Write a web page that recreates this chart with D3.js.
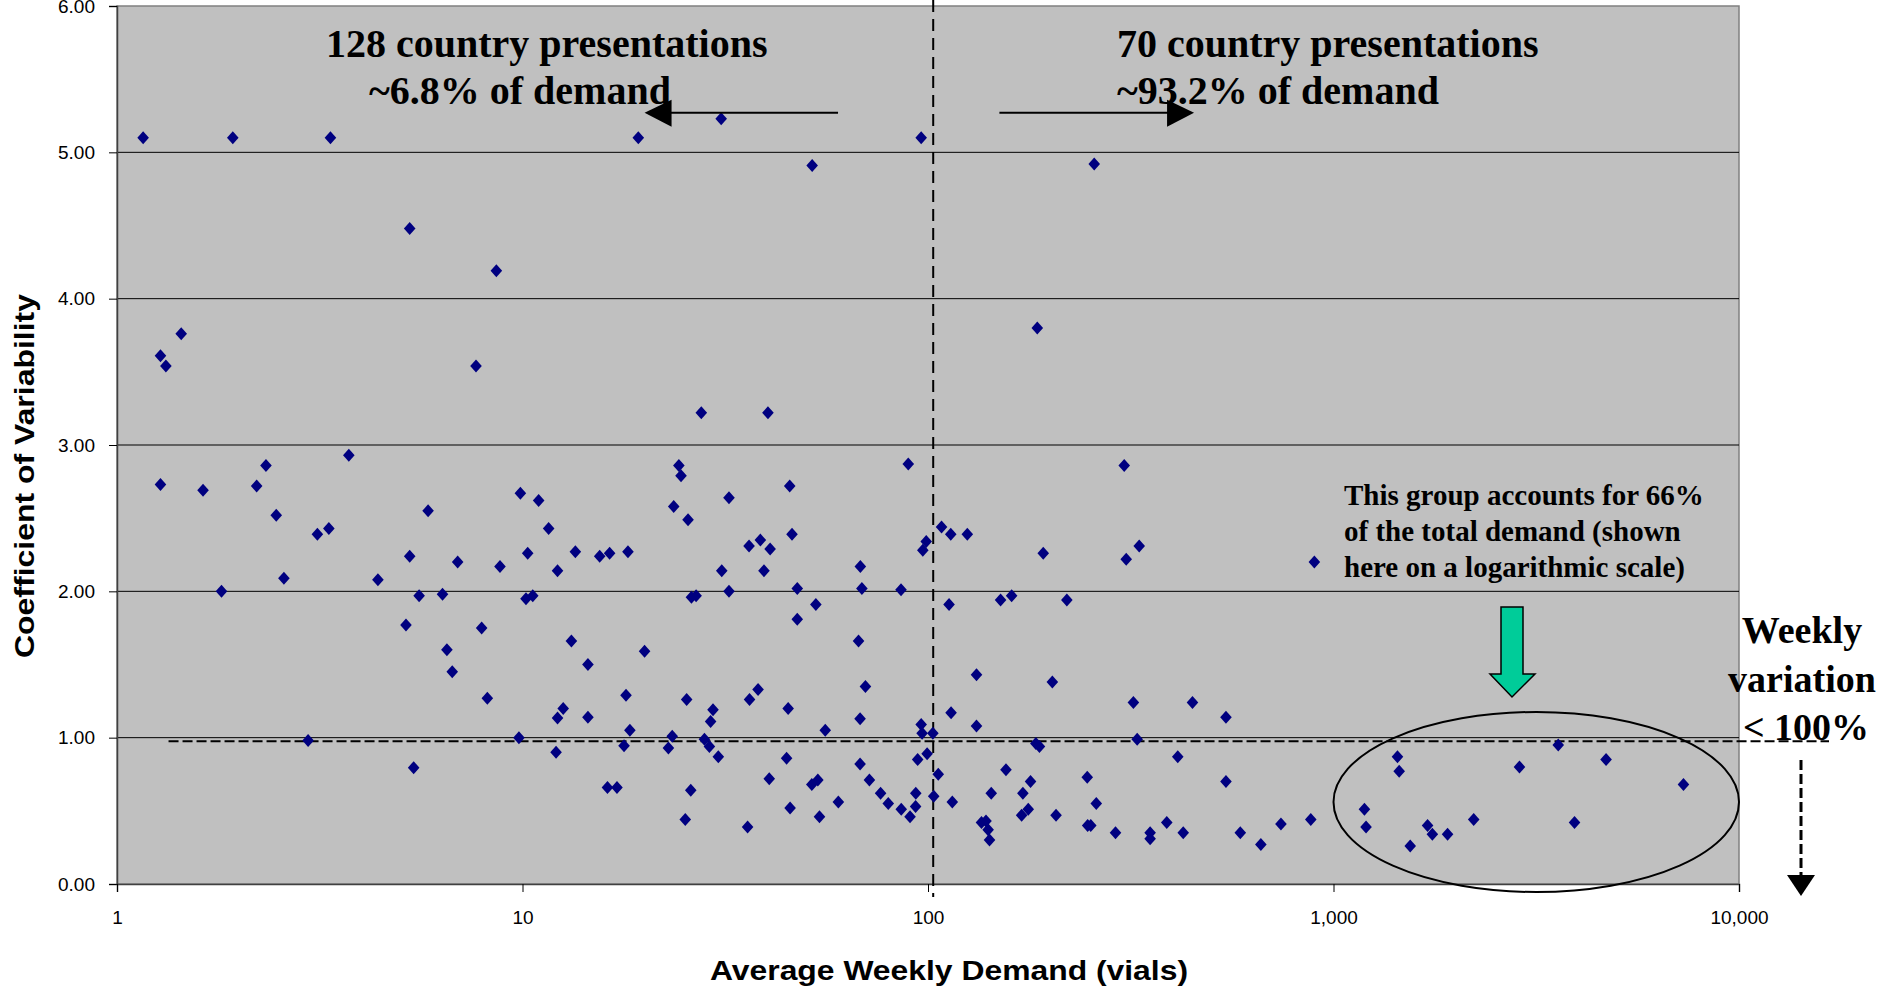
<!DOCTYPE html>
<html>
<head>
<meta charset="utf-8">
<script src="https://cdn.jsdelivr.net/npm/d3@7"></script>
<style>
  body { margin: 0; background: #fff; }
  svg { display: block; }
</style>
</head>
<body>
<svg id="chart" width="1884" height="994"></svg>
<script>
// average weekly demand (vials) per country presentation
const demand = [
  1.16, 1.93, 3.36, 19.3, 96.2, 30.9, 51.8, 257, 5.27, 8.62,
  1.44, 1.28, 1.32, 7.68, 186, 27.6, 40.3, 3.73, 2.33, 1.28,
  1.63, 2.21, 2.47, 3.12, 3.33, 5.85, 9.88, 10.96, 11.6, 5.27,
  6.92, 8.80, 10.3, 2.58, 4.40, 1.81, 5.56, 6.35, 10.2, 10.6,
  5.16, 7.93, 6.51, 24.3, 24.6, 89.4, 45.6, 32.3, 23.6, 25.6,
  13.5, 15.5, 16.4, 18.2, 12.2, 36.2, 38.6, 40.8, 46.2, 31.0,
  39.4, 68.1, 26.1, 26.8, 32.3, 47.6, 68.7, 85.8, 52.9, 47.6,
  112.7, 99.0, 97.1, 108, 113.8, 125, 13.2, 20.0, 67.4, 14.5,
  304.7, 192.4, 331.8, 308.2, 897, 151, 160.8, 220,
  6.71, 8.19, 2.96, 5.39, 9.80, 12.1, 12.2, 12.6, 14.5, 18.0,
  18.4, 17.8, 16.2, 17.1, 23.4, 22.9, 25.4, 26.0, 25.2,
  28.1, 28.9, 29.5, 29.1, 30.4, 35.9, 36.3, 38.1, 40.6, 45.2,
  44.8, 45.7, 51.7, 53.5, 54.0, 55.8, 60.1, 68.0, 68.0, 70.1,
  71.7, 76.4, 79.8, 85.9, 90.3, 93.2, 93.3, 94.3, 96.2, 96.7,
  99.5, 102.8, 103.3, 106, 114, 114.8, 131.7, 131.7, 135.5, 139,
  140.7, 141.8, 143.2, 155.7, 171.4, 170.2, 176.7, 179, 184.5, 188.3,
  202.6, 206.9, 247, 247.6, 252, 260, 290, 321, 328, 353,
  353, 388, 413, 426, 449, 543, 543, 589, 662, 742,
  879, 1192, 1203, 1438, 1452,
  1546, 1706, 1753, 1911, 2217, 2875, 3583, 3930, 4701, 7296
];
// coefficient of variability for the same presentations
const cv = [
  5.10, 5.10, 5.10, 5.10, 5.10, 5.23, 4.91, 4.92, 4.48, 4.19,
  3.76, 3.61, 3.54, 3.54, 3.80, 3.22, 3.22, 2.93, 2.86, 2.73,
  2.69, 2.72, 2.52, 2.39, 2.43, 2.55, 2.67, 2.62, 2.43, 2.24,
  2.20, 2.17, 2.26, 2.09, 2.08, 2.00, 1.97, 1.98, 1.95, 1.97,
  1.77, 1.75, 1.60, 2.86, 2.79, 2.87, 2.72, 2.64, 2.58, 2.49,
  2.27, 2.24, 2.26, 2.27, 2.14, 2.31, 2.35, 2.29, 2.39, 2.14,
  2.14, 2.17, 1.96, 1.97, 2.00, 2.02, 2.02, 2.01, 1.91, 1.81,
  1.91, 2.34, 2.28, 2.44, 2.39, 2.39, 1.66, 1.59, 1.66, 1.50,
  2.86, 2.26, 2.31, 2.22, 2.20, 1.94, 1.97, 1.94,
  1.45, 1.27, 0.98, 0.795, 1.00, 0.90, 1.135, 1.20, 1.14, 1.29,
  1.05, 0.945, 0.66, 0.66, 1.01, 0.93, 1.26, 0.64, 0.44,
  0.99, 0.94, 1.19, 1.11, 0.87, 0.39, 1.26, 1.33, 0.72, 1.20,
  0.86, 0.52, 0.68, 0.71, 0.46, 1.05, 0.56, 1.13, 0.82, 1.35,
  0.71, 0.62, 0.55, 0.51, 0.46, 0.53, 0.62, 0.85, 1.09, 1.03,
  0.89, 1.03, 0.60, 0.75, 1.17, 0.56, 1.43, 1.08, 0.42, 0.43,
  0.37, 0.30, 0.62, 0.78, 0.62, 0.47, 0.51, 0.70, 0.96, 0.94,
  1.38, 0.47, 0.73, 0.40, 0.40, 0.55, 0.35, 1.24, 0.99, 0.35,
  0.31, 0.42, 0.87, 0.35, 1.24, 1.14, 0.70, 0.35, 0.27, 0.41,
  0.44, 0.51, 0.39, 0.87, 0.77,
  0.26, 0.40, 0.34, 0.34, 0.44, 0.80, 0.95, 0.42, 0.85, 0.68
];
const xTicks = [1, 10, 100, 1000, 10000];
const yTicks = [0, 1, 2, 3, 4, 5, 6];
const splitDemand = 103;   // dashed divider between the two groups
const cvThreshold = 0.975; // weekly variation < 100% reference line

const svg = d3.select('#chart');
const margin = { left: 117, right: 1739, top: 6, bottom: 884 };

const x = d3.scaleLog().domain([1, 10000]).range([margin.left, margin.right]);
const y = d3.scaleLinear().domain([0, 6]).range([margin.bottom, margin.top]);

const sans = "'Liberation Sans', Arial, sans-serif";
const serif = "'Liberation Serif', 'Times New Roman', serif";

// plot area
svg.append('rect')
  .attr('x', margin.left).attr('y', margin.top)
  .attr('width', margin.right - margin.left).attr('height', margin.bottom - margin.top)
  .attr('fill', '#c0c0c0')
  .attr('stroke', '#808080').attr('stroke-width', 1.5);

// gridlines
svg.append('g')
  .selectAll('line')
  .data(yTicks.filter(d => d > 0 && d < 6))
  .join('line')
  .attr('x1', margin.left).attr('x2', margin.right)
  .attr('y1', d => y(d)).attr('y2', d => y(d))
  .attr('stroke', '#000').attr('stroke-width', 1);

// axes
const yAxis = svg.append('g')
  .attr('transform', `translate(${margin.left},0)`)
  .call(d3.axisLeft(y).tickValues(yTicks).tickFormat(d3.format('.2f')).tickSize(8).tickPadding(14));
const xAxis = svg.append('g')
  .attr('transform', `translate(0,${margin.bottom})`)
  .call(d3.axisBottom(x).tickValues(xTicks).tickFormat(d3.format(',')).tickSize(8).tickPadding(19));
[yAxis, xAxis].forEach(g => {
  g.selectAll('text').attr('font-family', sans).attr('font-size', 19).attr('fill', '#000');
  g.selectAll('line').attr('stroke', '#000');
  g.select('.domain').attr('stroke', '#404040').attr('stroke-width', 1.5);
});

// axis titles
svg.append('text')
  .attr('x', 949).attr('y', 980)
  .attr('text-anchor', 'middle')
  .attr('font-family', sans).attr('font-weight', 'bold').attr('font-size', 28)
  .attr('textLength', 478).attr('lengthAdjust', 'spacingAndGlyphs')
  .text('Average Weekly Demand (vials)');
svg.append('text')
  .attr('transform', 'translate(34,476) rotate(-90)')
  .attr('text-anchor', 'middle')
  .attr('font-family', sans).attr('font-weight', 'bold').attr('font-size', 27)
  .attr('textLength', 364).attr('lengthAdjust', 'spacingAndGlyphs')
  .text('Coefficient of Variability');

// reference lines
svg.append('line')
  .attr('x1', x(splitDemand)).attr('x2', x(splitDemand))
  .attr('y1', 0).attr('y2', margin.bottom + 13)
  .attr('stroke', '#000').attr('stroke-width', 2).attr('stroke-dasharray', '12,7');
svg.append('line')
  .attr('x1', x(1.34)).attr('x2', 1829)
  .attr('y1', y(cvThreshold)).attr('y2', y(cvThreshold))
  .attr('stroke', '#000').attr('stroke-width', 2).attr('stroke-dasharray', '10,4');

// points
const diamond = 'M0,-6.5L5.8,0L0,6.5L-5.8,0Z';
svg.append('g')
  .selectAll('path')
  .data(demand.map((d, i) => [d, cv[i]]))
  .join('path')
  .attr('d', diamond)
  .attr('transform', d => `translate(${x(d[0])},${y(d[1])})`)
  .attr('fill', '#000080');

// group annotations
const label = (tx, ty, size, txt, anchor) => svg.append('text')
  .attr('x', tx).attr('y', ty)
  .attr('text-anchor', anchor || 'start')
  .attr('font-family', serif).attr('font-weight', 'bold').attr('font-size', size)
  .attr('fill', '#000')
  .text(txt);

label(326, 57, 40, '128 country presentations');
label(369, 104, 40, '~6.8% of demand');
label(1117, 57, 40, '70 country presentations');
label(1117, 104, 40, '~93.2% of demand');

const ay = y(5.27);
svg.append('line').attr('x1', x(60)).attr('x2', x(20) + 26).attr('y1', ay).attr('y2', ay)
  .attr('stroke', '#000').attr('stroke-width', 2);
svg.append('path')
  .attr('d', `M${x(20)},${ay}L${x(20) + 27},${ay - 13}L${x(20) + 27},${ay + 14}Z`)
  .attr('fill', '#000');
svg.append('line').attr('x1', x(150)).attr('x2', x(453) - 26).attr('y1', ay).attr('y2', ay)
  .attr('stroke', '#000').attr('stroke-width', 2);
svg.append('path')
  .attr('d', `M${x(453)},${ay}L${x(453) - 27},${ay - 13}L${x(453) - 27},${ay + 14}Z`)
  .attr('fill', '#000');

// high-demand group
label(1344, 505, 29, 'This group accounts for 66%');
label(1344, 541, 29, 'of the total demand (shown');
label(1344, 577, 29, 'here on a logarithmic scale)');

svg.append('path')
  .attr('d', 'M1501,607L1523,607L1523,674L1535,674L1512,697L1490,674L1501,674Z')
  .attr('fill', '#00cc99').attr('stroke', '#000').attr('stroke-width', 1.5);

svg.append('ellipse')
  .attr('cx', (x(1000) + x(10000)) / 2).attr('cy', 802)
  .attr('rx', (x(10000) - x(1000)) / 2).attr('ry', 90)
  .attr('fill', 'none').attr('stroke', '#000').attr('stroke-width', 2);

label(1802, 643, 38, 'Weekly', 'middle');
label(1802, 692, 38, 'variation', 'middle');
label(1806, 740, 38, '< 100%', 'middle');

svg.append('line').attr('x1', 1801).attr('x2', 1801).attr('y1', 760).attr('y2', 876)
  .attr('stroke', '#000').attr('stroke-width', 3).attr('stroke-dasharray', '10,4');
svg.append('path').attr('d', 'M1787,875L1815,875L1801,896Z').attr('fill', '#000');
</script>
</body>
</html>
